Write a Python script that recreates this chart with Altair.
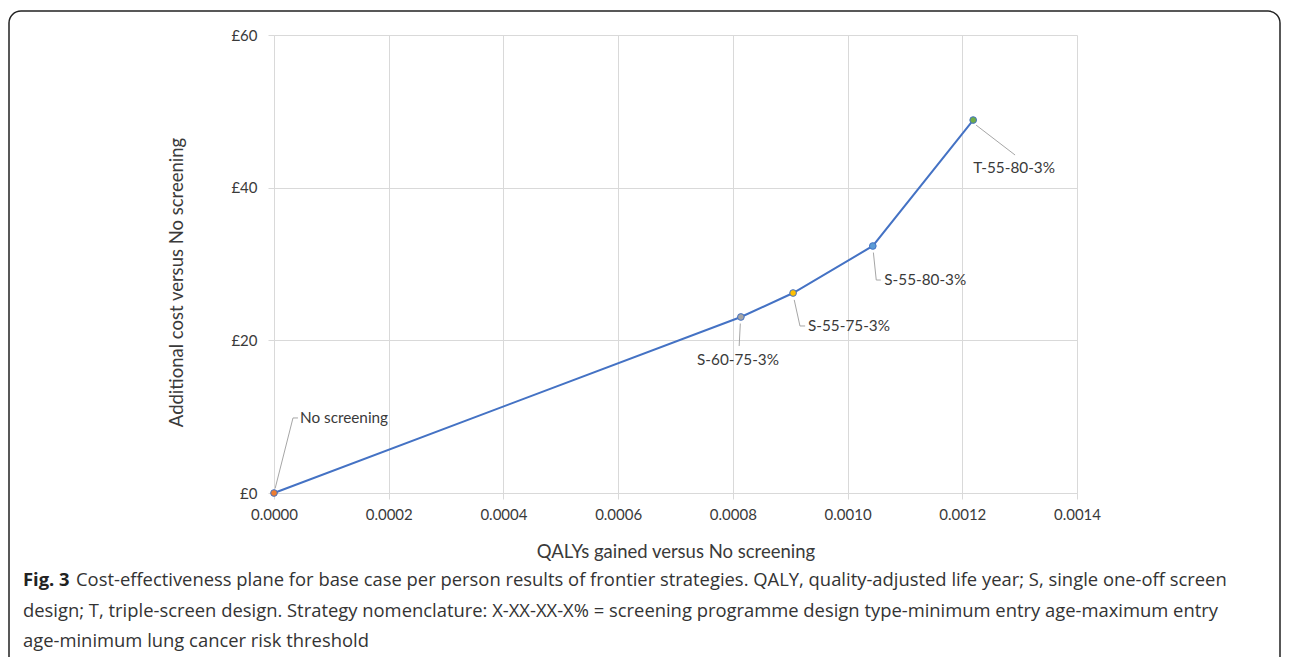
import altair as alt
import pandas as pd

# ---- data ----
strategies = ["No screening", "S-60-75-3%", "S-55-75-3%", "S-55-80-3%", "T-55-80-3%"]
qalys = [0.0, 0.000814, 0.000905, 0.001044, 0.001219]
costs = [0.0, 23.06, 26.2, 32.36, 48.86]
point_colors = ["#ED7D31", "#A5A5A5", "#FFC000", "#5B9BD5", "#70AD47"]

# label anchor positions (data units) and alignment
label_x = [0.0000453, 0.000809, 0.000931, 0.001064, 0.001219]
label_y = [9.83, 17.42, 21.88, 27.9, 42.58]
label_align = ["left", "center", "left", "left", "left"]

# leader-line paths (data units): strategy, order, x, y
leader_strategy = ["No screening"] * 3 + ["S-60-75-3%"] * 2 + ["S-55-75-3%"] * 3 + ["S-55-80-3%"] * 3 + ["T-55-80-3%"] * 2
leader_order = [0, 1, 2, 0, 1, 0, 1, 2, 0, 1, 2, 0, 1]
leader_x = [0.0000020, 0.0000331, 0.0000418,
            0.000813, 0.000811,
            0.000907, 0.000917, 0.000926,
            0.001045, 0.00105, 0.001058,
            0.001224, 0.001292]
leader_y = [0.6, 9.83, 9.83,
            22.2, 19.26,
            25.3, 21.88, 21.88,
            31.5, 27.9, 27.9,
            48.2, 44.28]

x_ticks = [0.0, 0.0002, 0.0004, 0.0006, 0.0008, 0.0010, 0.0012, 0.0014]
y_ticks = [0, 20, 40, 60]

x_title = "QALYs gained versus No screening"
y_title = "Additional cost versus No screening"
caption_bold = "Fig. 3"
caption_lines = [
    "Cost-effectiveness plane for base case per person results of frontier strategies. QALY, quality-adjusted life year; S, single one-off screen",
    "design; T, triple-screen design. Strategy nomenclature: X-XX-XX-X% = screening programme design type-minimum entry age-maximum entry",
    "age-minimum lung cancer risk threshold",
]

pts = pd.DataFrame({"strategy": strategies, "qaly": qalys, "cost": costs,
                    "color": point_colors, "lx": label_x, "ly": label_y,
                    "align": label_align})
leaders = pd.DataFrame({"strategy": leader_strategy, "order": leader_order,
                        "qaly": leader_x, "cost": leader_y})

FONT = "Lato"
TXT = "#3A3A3A"
x_scale = alt.Scale(domain=[0, 0.0014], nice=False, zero=True)
y_scale = alt.Scale(domain=[0, 60], nice=False)

x_axis = alt.Axis(values=x_ticks, format=".4f", title=x_title, grid=True,
                  labelFlush=False, titleY=58, titleBaseline="middle",
                  labelPadding=8, tickSize=6)
y_axis = alt.Axis(values=y_ticks, labelExpr="'£' + datum.value", title=y_title,
                  grid=True, titleX=-98, titleY=247, titleAngle=-90,
                  titleBaseline="middle", titleAlign="center", labelPadding=11,
                  tickSize=6, labelFlush=False)

base = alt.Chart(pts)

line = base.mark_line(color="#4472C4", strokeWidth=2).encode(
    x=alt.X("qaly:Q", scale=x_scale, axis=x_axis),
    y=alt.Y("cost:Q", scale=y_scale, axis=y_axis),
    order=alt.Order("qaly:Q"),
)

leader = alt.Chart(leaders).mark_line(color="#A6A6A6", strokeWidth=1).encode(
    x=alt.X("qaly:Q", scale=x_scale),
    y=alt.Y("cost:Q", scale=y_scale),
    detail="strategy:N",
    order="order:Q",
)

points = base.mark_point(filled=True, size=45, stroke="#4472C4", strokeWidth=1,
                         opacity=1).encode(
    x="qaly:Q", y="cost:Q",
    fill=alt.Fill("color:N", scale=None),
)

labels_left = alt.Chart(pts).transform_filter("datum.align == 'left'").mark_text(
    align="left", baseline="middle", font=FONT, fontSize=15.3, color=TXT).encode(
    x=alt.X("lx:Q", scale=x_scale), y=alt.Y("ly:Q", scale=y_scale), text="strategy:N")
labels_center = alt.Chart(pts).transform_filter("datum.align == 'center'").mark_text(
    align="center", baseline="middle", font=FONT, fontSize=15.3, color=TXT).encode(
    x=alt.X("lx:Q", scale=x_scale), y=alt.Y("ly:Q", scale=y_scale), text="strategy:N")

one = pd.DataFrame({"a": [0]})
frame = alt.Chart(one).mark_rect(fill=None, stroke="#222222", strokeWidth=1.5,
                                 cornerRadius=12).encode(
    x=alt.value(-265), x2=alt.value(1006), y=alt.value(-24), y2=alt.value(700))

CAP_FONT = "Open Sans"
CAP_SIZE = 18.4
cap_y0 = 545
cap_gap = 30.5
cap_bold = alt.Chart(one).mark_text(align="left", baseline="middle", font=CAP_FONT,
                                    fontSize=CAP_SIZE, fontWeight="bold", color="#222222").encode(
    x=alt.value(-251), y=alt.value(cap_y0), text=alt.value(caption_bold))
cap_texts = []
for i, t in enumerate(caption_lines):
    cap_texts.append(alt.Chart(one).mark_text(
        align="left", baseline="middle", font=CAP_FONT, fontSize=CAP_SIZE,
        color="#333333").encode(
        x=alt.value(-198 if i == 0 else -251), y=alt.value(cap_y0 + i * cap_gap),
        text=alt.value(t)))

chart = alt.layer(line, leader, points, labels_left, labels_center, frame, cap_bold,
                  *cap_texts).properties(
    width=803, height=458,
    autosize=alt.AutoSizeParams(type="none"),
    padding={"left": 266, "top": 27, "right": 205, "bottom": 170},
).configure_view(stroke=None).configure_axis(
    gridColor="#D9D9D9", domainColor="#D9D9D9", tickColor="#D9D9D9",
    labelFont=FONT, labelFontSize=15, labelColor=TXT,
    titleFont=FONT, titleFontSize=18.5, titleFontWeight="normal", titleColor=TXT,
)

chart.save("out.html", embed_options={"renderer": "svg", "actions": False})
